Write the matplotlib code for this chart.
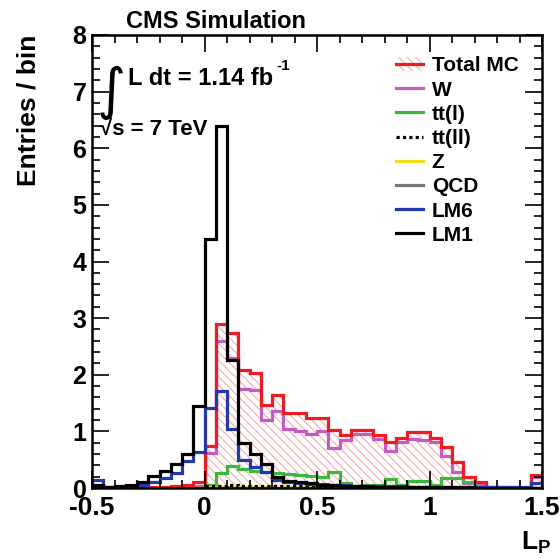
import numpy as np
import matplotlib
matplotlib.use("Agg")
import matplotlib.pyplot as plt
from matplotlib.lines import Line2D
from matplotlib.patches import Patch
from matplotlib.ticker import MultipleLocator

plt.rcParams['font.family'] = ['Liberation Sans', 'DejaVu Sans']
plt.rcParams['font.weight'] = 'bold'
plt.rcParams['mathtext.fontset'] = 'custom'
plt.rcParams['mathtext.bf'] = 'Liberation Sans:bold'
plt.rcParams['mathtext.rm'] = 'Liberation Sans:bold'
plt.rcParams['hatch.linewidth'] = 0.9

# 40 bins of 0.05 from -0.5 to 1.5
edges = np.linspace(-0.5, 1.5, 41)

total_mc = [0.04, 0.02, 0.01, 0.01, 0.01, 0.02, 0.02, 0.03, 0.05, 0.10,
            0.75, 2.90, 2.74, 2.08, 2.03, 1.46, 1.64, 1.32, 1.32, 1.24,
            1.24, 1.02, 0.94, 1.02, 1.02, 0.94, 0.82, 0.88, 0.99, 0.99,
            0.88, 0.73, 0.46, 0.19, 0.10, 0.01, 0.01, 0.01, 0.00, 0.23]
w_jets = [0.00, 0.00, 0.00, 0.00, 0.00, 0.00, 0.00, 0.00, 0.02, 0.03,
          0.62, 2.60, 2.30, 1.74, 1.73, 1.20, 1.36, 1.05, 1.00, 0.96,
          1.00, 0.70, 0.85, 0.96, 0.95, 0.86, 0.65, 0.82, 0.86, 0.85,
          0.82, 0.56, 0.29, 0.08, 0.07, 0.01, 0.00, 0.00, 0.00, 0.20]
tt_l = [0.00, 0.00, 0.00, 0.00, 0.00, 0.00, 0.00, 0.00, 0.00, 0.00,
        0.05, 0.27, 0.38, 0.34, 0.30, 0.28, 0.26, 0.25, 0.23, 0.22,
        0.20, 0.28, 0.08, 0.04, 0.06, 0.06, 0.16, 0.06, 0.13, 0.13,
        0.05, 0.17, 0.17, 0.10, 0.02, 0.00, 0.00, 0.00, 0.00, 0.00]
tt_ll = [0.00, 0.00, 0.00, 0.00, 0.00, 0.00, 0.00, 0.00, 0.00, 0.00,
         0.03, 0.04, 0.05, 0.04, 0.04, 0.04, 0.04, 0.03, 0.03, 0.03,
         0.02, 0.02, 0.01, 0.01, 0.01, 0.00, 0.00, 0.00, 0.00, 0.00,
         0.00, 0.00, 0.00, 0.00, 0.00, 0.00, 0.00, 0.00, 0.00, 0.00]
z_jets = [0.00, 0.00, 0.00, 0.00, 0.00, 0.00, 0.00, 0.00, 0.00, 0.00,
          0.02, 0.02, 0.02, 0.02, 0.02, 0.02, 0.02, 0.02, 0.02, 0.01,
          0.01, 0.01, 0.00, 0.00, 0.00, 0.00, 0.00, 0.00, 0.00, 0.00,
          0.00, 0.00, 0.00, 0.00, 0.00, 0.00, 0.00, 0.00, 0.00, 0.00]
qcd = [0.0] * 40
lm6 = [0.15, 0.02, 0.02, 0.04, 0.05, 0.10, 0.17, 0.27, 0.47, 0.63,
       1.42, 1.72, 1.04, 0.50, 0.37, 0.28, 0.14, 0.10, 0.08, 0.07,
       0.07, 0.06, 0.05, 0.04, 0.04, 0.03, 0.03, 0.03, 0.02, 0.02,
       0.02, 0.02, 0.02, 0.01, 0.01, 0.02, 0.02, 0.01, 0.01, 0.08]
lm1 = [0.05, 0.02, 0.03, 0.05, 0.10, 0.22, 0.30, 0.42, 0.60, 1.45,
       4.40, 6.40, 2.26, 0.80, 0.60, 0.42, 0.20, 0.12, 0.10, 0.08,
       0.06, 0.05, 0.04, 0.03, 0.03, 0.02, 0.02, 0.02, 0.02, 0.01,
       0.01, 0.01, 0.01, 0.01, 0.00, 0.00, 0.00, 0.00, 0.00, 0.00]

c_red = '#ec1c24'
c_w = '#c45cc4'
c_green = '#3cb83c'
c_yellow = '#f0e020'
c_qcd = '#777777'
c_blue = '#2438a8'
c_hatch = '#f4b4b4'
lw = 2.3

fig = plt.figure(figsize=(5.6, 5.58), dpi=100)
ax = fig.add_axes([92/560, 1-488/558, 450/560, 453/558])

# hatched total MC
ax.stairs(total_mc, edges, fill=True, facecolor='none', edgecolor=c_hatch,
          hatch='\\\\\\\\', linewidth=0)
ax.stairs(w_jets, edges, color=c_w, linewidth=lw, baseline=None)
ax.stairs(tt_l, edges, color=c_green, linewidth=lw, baseline=None)
ax.stairs(z_jets, edges, color=c_yellow, linewidth=lw, baseline=None)
ax.stairs(qcd, edges, color=c_qcd, linewidth=lw, baseline=None)
ax.stairs(tt_ll, edges, color='black', linewidth=lw, linestyle=(0, (1, 1)), baseline=None)
ax.stairs(total_mc, edges, color=c_red, linewidth=lw, baseline=0)
ax.stairs(lm6, edges, color=c_blue, linewidth=lw, baseline=0)
ax.stairs(lm1, edges, color='black', linewidth=lw, baseline=0)

ax.set_xlim(-0.5, 1.5)
ax.set_ylim(0, 8)
ax.xaxis.set_major_locator(MultipleLocator(0.5))
ax.xaxis.set_minor_locator(MultipleLocator(0.1))
ax.yaxis.set_major_locator(MultipleLocator(1))
ax.yaxis.set_minor_locator(MultipleLocator(0.2))
ax.set_xticks([-0.5, 0, 0.5, 1, 1.5])
ax.set_xticklabels(['-0.5', '0', '0.5', '1', '1.5'])
ax.tick_params(which='both', direction='in', top=True, right=True, width=1.2)
ax.tick_params(which='major', length=12)
ax.tick_params(which='minor', length=6)
ax.tick_params(axis='x', labelsize=19, pad=6)
ax.tick_params(axis='y', labelsize=18, pad=4)
for s in ax.spines.values():
    s.set_linewidth(1.8)

ax.set_ylabel('Entries / bin', fontsize=19, fontweight='bold', loc='top')
ax.yaxis.set_label_coords(-0.115, 1.0)
fig.text(536/560, 1-550/558, r'$\mathbf{L_P}$', fontsize=19, ha='center')

fig.text(126/560, 1-28/558, 'CMS Simulation', fontsize=17, fontweight='bold')
fig.text(97/560, 1-108/558, '\u222b', fontsize=40, fontweight='normal',
         family=['DejaVu Sans'])
fig.text(128/560, 1-85/558, 'L dt = 1.14 fb', fontsize=17, fontweight='bold')
fig.text(276/560, 1-70/558, '-1', fontsize=11, fontweight='bold')
fig.text(100/560, 1-135/558, '\u221as = 7 TeV', fontsize=16, fontweight='bold')

handles = [
    (Patch(facecolor='none', edgecolor=c_hatch, hatch='\\\\\\\\', linewidth=0),
     Line2D([], [], color=c_red, lw=lw)),
    Line2D([], [], color=c_w, lw=lw),
    Line2D([], [], color=c_green, lw=lw),
    Line2D([], [], color='black', lw=lw, linestyle=(0, (1, 1))),
    Line2D([], [], color=c_yellow, lw=lw),
    Line2D([], [], color=c_qcd, lw=lw),
    Line2D([], [], color=c_blue, lw=lw),
    Line2D([], [], color='black', lw=lw),
]
labels = ['Total MC', 'W', 'tt(l)', 'tt(ll)', 'Z', 'QCD', 'LM6', 'LM1']
leg = fig.legend(handles, labels, loc='upper left',
                 bbox_to_anchor=(388/560, 1-48/558), frameon=False,
                 prop={'size': 15, 'weight': 'bold'}, handlelength=1.3,
                 handletextpad=0.4, labelspacing=0.25, borderaxespad=0)

fig.savefig('out.png', dpi=100)
